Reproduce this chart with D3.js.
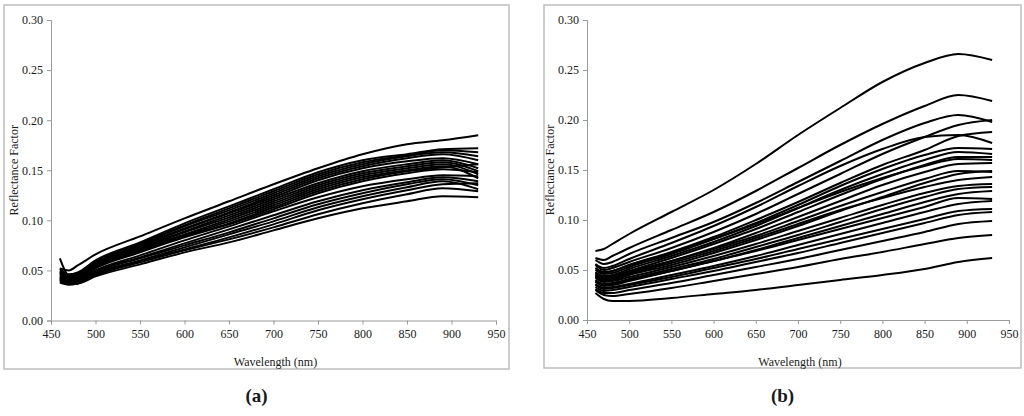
<!DOCTYPE html>
<html>
<head>
<meta charset="utf-8">
<script src="https://cdn.jsdelivr.net/npm/d3@7"></script>
<style>
  html, body { margin: 0; padding: 0; background: #fff; }
  svg { display: block; }
  svg text { font-family: 'Liberation Serif', 'DejaVu Serif', serif !important; fill: #1a1a1a; }
</style>
</head>
<body>
<svg id="chart" width="1024" height="416"></svg>
<script>
// Wavelength sample points (nm) shared by all spectra
const wavelengths = [460, 470, 480, 500, 550, 600, 650, 700, 750, 800, 850, 890, 930];

// Panel (a) reflectance spectra
const spectraA = [
  [0.052, 0.050, 0.055, 0.066, 0.084, 0.102, 0.119, 0.136, 0.152, 0.166, 0.176, 0.180, 0.185],
  [0.050, 0.046, 0.048, 0.060, 0.078, 0.097, 0.114, 0.131, 0.148, 0.160, 0.166, 0.171, 0.172],
  [0.049, 0.045, 0.047, 0.059, 0.077, 0.095, 0.112, 0.129, 0.146, 0.158, 0.165, 0.170, 0.168],
  [0.052, 0.046, 0.046, 0.058, 0.076, 0.094, 0.110, 0.127, 0.144, 0.156, 0.164, 0.168, 0.164],
  [0.048, 0.044, 0.046, 0.057, 0.075, 0.092, 0.108, 0.125, 0.142, 0.154, 0.162, 0.166, 0.160],
  [0.047, 0.043, 0.045, 0.056, 0.074, 0.091, 0.107, 0.123, 0.140, 0.152, 0.159, 0.162, 0.156],
  [0.062, 0.045, 0.044, 0.055, 0.073, 0.089, 0.105, 0.121, 0.137, 0.149, 0.156, 0.160, 0.152],
  [0.046, 0.042, 0.044, 0.055, 0.072, 0.088, 0.103, 0.119, 0.135, 0.147, 0.154, 0.158, 0.149],
  [0.045, 0.041, 0.043, 0.054, 0.071, 0.086, 0.101, 0.117, 0.133, 0.145, 0.152, 0.156, 0.146],
  [0.048, 0.043, 0.042, 0.053, 0.070, 0.085, 0.099, 0.115, 0.131, 0.143, 0.150, 0.154, 0.142],
  [0.044, 0.040, 0.042, 0.053, 0.069, 0.084, 0.097, 0.113, 0.129, 0.141, 0.149, 0.153, 0.156],
  [0.043, 0.040, 0.041, 0.052, 0.068, 0.083, 0.096, 0.111, 0.127, 0.139, 0.147, 0.151, 0.148],
  [0.042, 0.039, 0.040, 0.050, 0.065, 0.080, 0.094, 0.109, 0.123, 0.134, 0.141, 0.145, 0.144],
  [0.041, 0.038, 0.039, 0.049, 0.063, 0.077, 0.091, 0.105, 0.119, 0.130, 0.138, 0.143, 0.139],
  [0.040, 0.037, 0.038, 0.048, 0.062, 0.075, 0.088, 0.102, 0.116, 0.127, 0.136, 0.141, 0.135],
  [0.043, 0.038, 0.038, 0.047, 0.060, 0.073, 0.086, 0.099, 0.113, 0.124, 0.133, 0.139, 0.131],
  [0.039, 0.036, 0.037, 0.046, 0.059, 0.071, 0.083, 0.096, 0.110, 0.121, 0.130, 0.136, 0.137],
  [0.038, 0.036, 0.037, 0.045, 0.058, 0.070, 0.081, 0.093, 0.106, 0.117, 0.126, 0.132, 0.129],
  [0.041, 0.037, 0.037, 0.044, 0.056, 0.068, 0.078, 0.090, 0.102, 0.112, 0.119, 0.124, 0.123]
];

// Panel (b) reflectance spectra
const spectraB = [
  [0.069, 0.071, 0.076, 0.086, 0.108, 0.130, 0.156, 0.185, 0.212, 0.238, 0.257, 0.266, 0.260],
  [0.062, 0.060, 0.064, 0.072, 0.090, 0.108, 0.129, 0.152, 0.175, 0.196, 0.214, 0.225, 0.219],
  [0.060, 0.056, 0.058, 0.066, 0.082, 0.098, 0.117, 0.138, 0.159, 0.180, 0.197, 0.205, 0.198],
  [0.055, 0.050, 0.052, 0.058, 0.072, 0.088, 0.106, 0.126, 0.146, 0.166, 0.183, 0.195, 0.200],
  [0.052, 0.047, 0.049, 0.055, 0.068, 0.083, 0.100, 0.118, 0.137, 0.155, 0.170, 0.184, 0.188],
  [0.056, 0.052, 0.054, 0.061, 0.077, 0.094, 0.113, 0.134, 0.154, 0.171, 0.183, 0.185, 0.177],
  [0.050, 0.046, 0.047, 0.053, 0.066, 0.081, 0.097, 0.115, 0.134, 0.151, 0.165, 0.172, 0.171],
  [0.048, 0.044, 0.045, 0.051, 0.064, 0.078, 0.094, 0.112, 0.130, 0.146, 0.160, 0.168, 0.166],
  [0.052, 0.048, 0.049, 0.055, 0.067, 0.081, 0.096, 0.112, 0.128, 0.142, 0.154, 0.161, 0.160],
  [0.047, 0.043, 0.044, 0.049, 0.062, 0.076, 0.091, 0.108, 0.125, 0.141, 0.155, 0.163, 0.163],
  [0.045, 0.041, 0.042, 0.047, 0.059, 0.072, 0.087, 0.103, 0.119, 0.135, 0.148, 0.156, 0.157],
  [0.046, 0.042, 0.043, 0.048, 0.059, 0.071, 0.084, 0.099, 0.114, 0.128, 0.141, 0.149, 0.148],
  [0.043, 0.039, 0.040, 0.045, 0.055, 0.067, 0.080, 0.094, 0.109, 0.123, 0.137, 0.146, 0.149],
  [0.044, 0.040, 0.041, 0.046, 0.057, 0.069, 0.082, 0.096, 0.110, 0.122, 0.133, 0.140, 0.143],
  [0.042, 0.038, 0.039, 0.043, 0.053, 0.064, 0.076, 0.089, 0.102, 0.115, 0.127, 0.134, 0.136],
  [0.040, 0.036, 0.037, 0.041, 0.051, 0.061, 0.073, 0.085, 0.098, 0.111, 0.123, 0.131, 0.133],
  [0.038, 0.034, 0.035, 0.039, 0.049, 0.059, 0.070, 0.082, 0.094, 0.106, 0.118, 0.126, 0.129],
  [0.039, 0.035, 0.036, 0.040, 0.049, 0.059, 0.069, 0.080, 0.091, 0.102, 0.113, 0.122, 0.121],
  [0.036, 0.032, 0.033, 0.036, 0.045, 0.054, 0.064, 0.075, 0.086, 0.097, 0.108, 0.116, 0.119],
  [0.035, 0.031, 0.032, 0.035, 0.043, 0.052, 0.061, 0.071, 0.081, 0.091, 0.101, 0.109, 0.111],
  [0.033, 0.029, 0.030, 0.033, 0.041, 0.049, 0.058, 0.067, 0.077, 0.087, 0.097, 0.105, 0.108],
  [0.031, 0.027, 0.027, 0.030, 0.037, 0.045, 0.053, 0.061, 0.070, 0.079, 0.088, 0.096, 0.099],
  [0.030, 0.025, 0.024, 0.026, 0.032, 0.039, 0.046, 0.053, 0.061, 0.068, 0.076, 0.082, 0.085],
  [0.027, 0.021, 0.019, 0.019, 0.022, 0.026, 0.030, 0.035, 0.040, 0.045, 0.051, 0.058, 0.062]
];

const xTicks = [450, 500, 550, 600, 650, 700, 750, 800, 850, 900, 950];
const yTicks = [0.00, 0.05, 0.10, 0.15, 0.20, 0.25, 0.30];
const panelLabels = ["(a)", "(b)"];
const xTitle = "Wavelength (nm)";
const yTitle = "Reflectance Factor";

const FONT = "'Liberation Serif', 'DejaVu Serif', serif";
const svg = d3.select("#chart").style("font-family", FONT);

const panels = [
  { data: spectraA, frame: [4, 5, 509, 369], plot: [51, 20, 496, 320.5], label: panelLabels[0] },
  { data: spectraB, frame: [544, 5, 1021, 368], plot: [587, 20, 1009, 320], label: panelLabels[1] }
];

panels.forEach(p => {
  const [fx0, fy0, fx1, fy1] = p.frame;
  const [px0, py0, px1, py1] = p.plot;

  svg.append("rect")
    .attr("x", fx0).attr("y", fy0)
    .attr("width", fx1 - fx0).attr("height", fy1 - fy0)
    .attr("fill", "none").attr("stroke", "#bdbdbd").attr("stroke-width", 1.5);

  const x = d3.scaleLinear().domain([450, 950]).range([px0, px1]);
  const y = d3.scaleLinear().domain([0, 0.30]).range([py1, py0]);

  const gx = svg.append("g").attr("transform", `translate(0,${py1})`)
    .call(d3.axisBottom(x).tickValues(xTicks).tickSize(4).tickPadding(5).tickFormat(d3.format("d")));
  const gy = svg.append("g").attr("transform", `translate(${px0},0)`)
    .call(d3.axisLeft(y).tickValues(yTicks).tickSize(4).tickPadding(4).tickFormat(d3.format(".2f")));

  [gx, gy].forEach(g => {
    g.attr("font-family", null).attr("font-size", null).style("font-family", FONT);
    g.selectAll("path.domain").attr("stroke", "#9a9a9a").attr("stroke-width", 1);
    g.selectAll(".tick line").attr("stroke", "#9a9a9a");
    g.selectAll(".tick text")
      .style("font-family", FONT)
      .style("font-size", "12px").attr("fill", "#1a1a1a");
  });

  const line = d3.line()
    .x((d, i) => x(wavelengths[i]))
    .y(d => y(d))
    .curve(d3.curveMonotoneX);

  svg.append("g").selectAll("path").data(p.data).join("path")
    .attr("d", line)
    .attr("fill", "none")
    .attr("stroke", "#000")
    .attr("stroke-width", 2)
    .attr("stroke-linejoin", "round");

  svg.append("text")
    .attr("x", (px0 + px1) / 2 + 2).attr("y", 366)
    .attr("text-anchor", "middle")
    .style("font-family", FONT).style("font-size", "12px")
    .text(xTitle);

  svg.append("text")
    .attr("transform", `translate(${px0 - 33},${(py0 + py1) / 2}) rotate(-90)`)
    .attr("text-anchor", "middle")
    .style("font-family", FONT).style("font-size", "12px")
    .text(yTitle);

  svg.append("text")
    .attr("x", (fx0 + fx1) / 2).attr("y", 402)
    .attr("text-anchor", "middle")
    .style("font-family", FONT).style("font-size", "19px").style("font-weight", "bold")
    .attr("fill", "#000")
    .text(p.label);
});
</script>
</body>
</html>
